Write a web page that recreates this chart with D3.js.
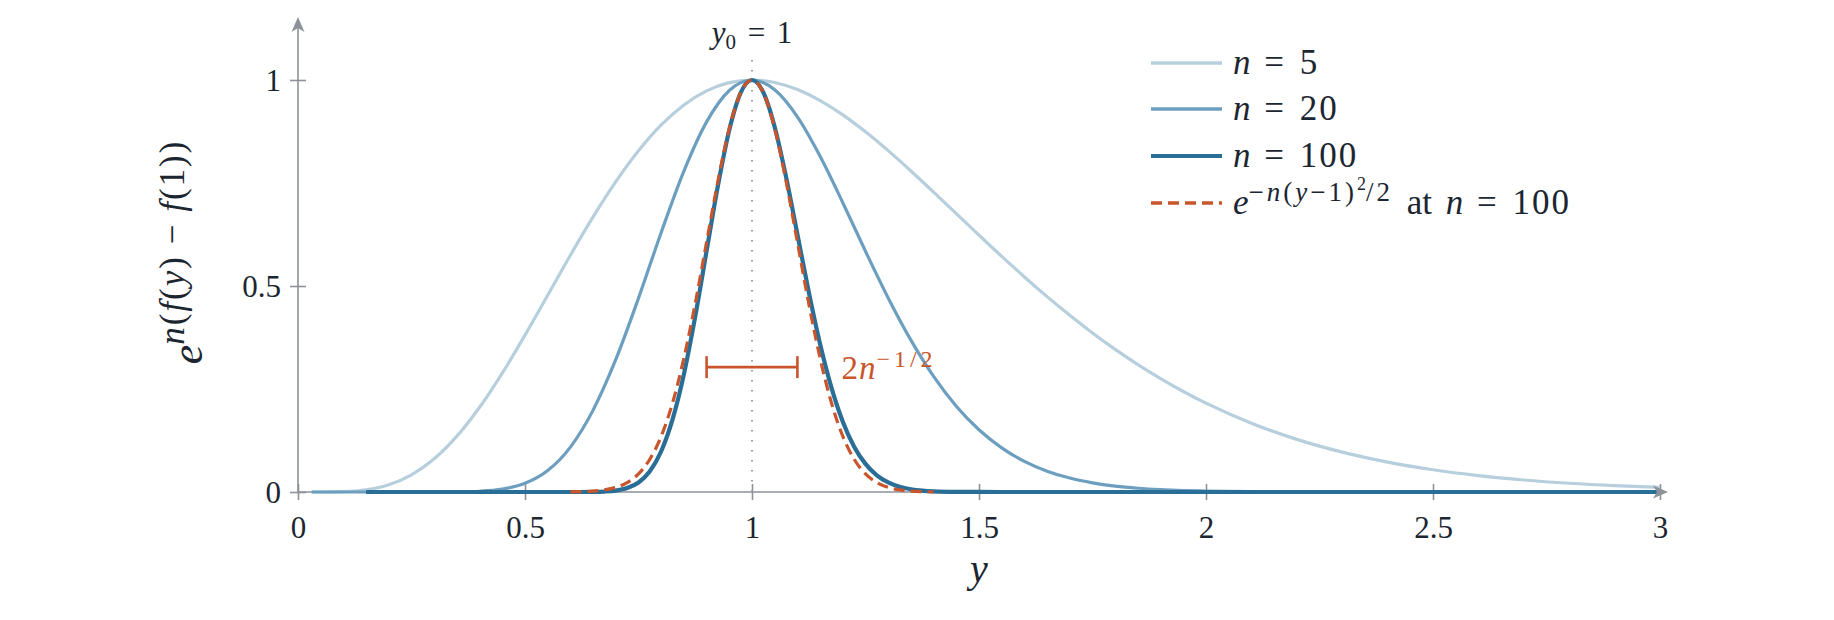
<!DOCTYPE html>
<html>
<head>
<meta charset="utf-8">
<script src="https://cdn.jsdelivr.net/npm/d3@7"></script>
<style>
  html, body { margin: 0; padding: 0; background: #fff; }
  svg { display: block; }
  text, tspan { font-family: "Liberation Serif", "Times New Roman", "DejaVu Serif", serif; fill: #1b2631; }
</style>
</head>
<body>
<svg id="chart" width="1834" height="620"></svg>
<script>
// ---------- data ----------
const yGridWide = [0.03, 0.05, 0.10, 0.15, 0.20, 0.25, 0.30, 0.35, 0.40, 0.45, 0.50, 0.55, 0.60, 0.65, 0.70, 0.75, 0.80, 0.85, 0.90, 0.95, 1.00,
  1.05, 1.10, 1.15, 1.20, 1.25, 1.30, 1.35, 1.40, 1.45, 1.50, 1.55, 1.60, 1.65, 1.70, 1.75, 1.80, 1.85, 1.90, 1.95, 2.00,
  2.10, 2.20, 2.30, 2.40, 2.50, 2.60, 2.70, 2.80, 2.90, 3.00];
const n5Values = [0.0000, 0.0000, 0.0009, 0.0053, 0.0175, 0.0415, 0.0805, 0.1355, 0.2057, 0.2887, 0.3808, 0.4776, 0.5747, 0.6676, 0.7532, 0.8282, 0.8909, 0.9394, 0.9736, 0.9936, 1.0000,
  0.9940, 0.9768, 0.9501, 0.9154, 0.8743, 0.8285, 0.7792, 0.7279, 0.6756, 0.6234, 0.5719, 0.5220, 0.4742, 0.4288, 0.3860, 0.3461, 0.3091, 0.2751, 0.2439, 0.2156,
  0.1669, 0.1277, 0.0968, 0.0726, 0.0540, 0.0399, 0.0292, 0.0212, 0.0153, 0.0110];
const n20Values = [0, 0, 0, 0, 0, 0, 0.0000, 0.0003, 0.0018, 0.0069, 0.0210, 0.0520, 0.1090, 0.1987, 0.3217, 0.4705, 0.6300, 0.7788, 0.8983, 0.9745, 1.0000,
  0.9761, 0.9105, 0.8148, 0.7022, 0.5844, 0.4711, 0.3686, 0.2807, 0.2083, 0.1510, 0.1070, 0.0743, 0.0506, 0.0338, 0.0222, 0.0143, 0.0091, 0.0057, 0.0035, 0.0022,
  0.0008, 0.0003, 0.0001, 0, 0, 0, 0, 0, 0, 0];
const yGridN100 = [0.15, 0.30, 0.45, 0.60, 0.65,
  0.675, 0.700, 0.725, 0.750, 0.775, 0.800, 0.825, 0.850, 0.875, 0.900, 0.925, 0.950, 0.975, 1.000,
  1.025, 1.050, 1.075, 1.100, 1.125, 1.150, 1.175, 1.200, 1.225, 1.250, 1.275, 1.300, 1.325, 1.350, 1.375, 1.400,
  1.45, 1.50, 1.60, 1.80, 2.00, 2.50, 3.00];
const n100Values = [0, 0, 0, 0, 0.0003,
  0.0011, 0.0034, 0.0095, 0.0230, 0.0503, 0.0989, 0.1761, 0.2859, 0.4261, 0.5851, 0.7438, 0.8787, 0.9687, 1.0000,
  0.9698, 0.8860, 0.7650, 0.6256, 0.4859, 0.3592, 0.2533, 0.1707, 0.1101, 0.0682, 0.0405, 0.0232, 0.0128, 0.0068, 0.0035, 0.0017,
  0.0004, 0.0001, 0, 0, 0, 0, 0];
const yGridGauss = [0.600, 0.625, 0.650, 0.675, 0.700, 0.725, 0.750, 0.775, 0.800, 0.825, 0.850, 0.875, 0.900, 0.925, 0.950, 0.975, 1.000,
  1.025, 1.050, 1.075, 1.100, 1.125, 1.150, 1.175, 1.200, 1.225, 1.250, 1.275, 1.300, 1.325, 1.350, 1.375, 1.400];
const gaussValues = [0.0003, 0.0009, 0.0022, 0.0051, 0.0111, 0.0228, 0.0439, 0.0796, 0.1353, 0.2163, 0.3247, 0.4578, 0.6065, 0.7548, 0.8825, 0.9692, 1.0000,
  0.9692, 0.8825, 0.7548, 0.6065, 0.4578, 0.3247, 0.2163, 0.1353, 0.0796, 0.0439, 0.0228, 0.0111, 0.0051, 0.0022, 0.0009, 0.0003];
const xTicks = [0, 0.5, 1, 1.5, 2, 2.5, 3];
const xTickLabels = ["0", "0.5", "1", "1.5", "2", "2.5", "3"];
const yTicks = [0, 0.5, 1];
const yTickLabels = ["0", "0.5", "1"];
const modeY = 1;
const errorBar = [0.9, 1.1];
const errorBarHeight = 0.303;
const seriesNames = ["n = 5", "n = 20", "n = 100"];

// ---------- layout ----------
const FONT = "'Liberation Serif', 'Times New Roman', 'DejaVu Serif', serif";
const svg = d3.select("#chart");
const x = d3.scaleLinear().domain([0, 3]).range([298, 1660]);
const y = d3.scaleLinear().domain([0, 1]).range([492, 80]);
const axisColor = "#8c919a";
const colN5 = "#b7cfdd", colN20 = "#6c9fbf", colN100 = "#296e96", colOrange = "#c8552b";

// math text helper
function addMath(sel, parts) {
  let rise = 0;
  parts.forEach(p => {
    const r = p.r || 0;
    sel.append("tspan")
      .attr("dy", -(r - rise))
      .style("font-size", p.s + "px")
      .style("font-style", p.i ? "italic" : "normal")
      .style("font-family", FONT)
      .style("letter-spacing", (p.ls || 0) + "px")
      .style("word-spacing", (p.ws || 0) + "px")
      .text(p.t);
    rise = r;
  });
}

// ---------- axes ----------
const gx = svg.append("g").attr("transform", `translate(0,${y(0)})`)
  .call(d3.axisBottom(x).tickValues(xTicks).tickFormat((d, i) => xTickLabels[i]).tickSize(8));
gx.select(".domain").remove();
gx.selectAll(".tick line").attr("y1", -8).attr("y2", 8).attr("stroke", axisColor).attr("stroke-width", 1.6);
gx.selectAll(".tick text").attr("y", 46).attr("dy", 0).style("font-size", "31px")
  .style("font-family", FONT).attr("fill", "#1b2631");

const gy = svg.append("g").attr("transform", `translate(${x(0)},0)`)
  .call(d3.axisLeft(y).tickValues(yTicks).tickFormat((d, i) => yTickLabels[i]).tickSize(8));
gy.select(".domain").remove();
gy.selectAll(".tick line").attr("x1", -8).attr("x2", 8).attr("stroke", axisColor).attr("stroke-width", 1.6);
gy.selectAll(".tick text").attr("x", -17).attr("dy", "0.34em").style("font-size", "31px")
  .style("font-family", FONT).attr("fill", "#1b2631");

// axis lines
svg.append("line").attr("x1", x(0)).attr("x2", 1660).attr("y1", y(0)).attr("y2", y(0))
  .attr("stroke", axisColor).attr("stroke-width", 1.6);
svg.append("line").attr("x1", x(0)).attr("x2", x(0)).attr("y1", y(0)).attr("y2", 24)
  .attr("stroke", axisColor).attr("stroke-width", 1.6);

// dotted line at y0 = 1
svg.append("line").attr("x1", x(modeY)).attr("x2", x(modeY)).attr("y1", 60).attr("y2", y(0))
  .attr("stroke", "#9a9ea6").attr("stroke-width", 2).attr("stroke-dasharray", "1.6,8.4");

// ---------- curves ----------
const line = d3.line().x(d => x(d[0])).y(d => y(d[1])).curve(d3.curveMonotoneX);
const zip = (a, b) => a.map((v, i) => [v, b[i]]);

svg.append("path").attr("d", line(zip(yGridWide, n5Values)))
  .attr("fill", "none").attr("stroke", colN5).attr("stroke-width", 3.2);
svg.append("path").attr("d", line(zip(yGridWide, n20Values)))
  .attr("fill", "none").attr("stroke", colN20).attr("stroke-width", 3.2);
svg.append("path").attr("d", line(zip(yGridN100, n100Values)))
  .attr("fill", "none").attr("stroke", colN100).attr("stroke-width", 4.2);
svg.append("path").attr("d", line(zip(yGridGauss, gaussValues)))
  .attr("fill", "none").attr("stroke", colOrange).attr("stroke-width", 3.2)
  .attr("stroke-dasharray", "11,6");

// arrowheads
function arrowHead(tx, ty, angle) {
  svg.append("path")
    .attr("d", "M0,0 L-15,-6.5 L-11,0 L-15,6.5 Z")
    .attr("transform", `translate(${tx},${ty}) rotate(${angle})`)
    .attr("fill", axisColor);
}
arrowHead(1668, y(0), 0);
arrowHead(x(0), 17, -90);

// ---------- error bar ----------
const eb = svg.append("g").attr("stroke", colOrange).attr("stroke-width", 2.6);
eb.append("line").attr("x1", x(errorBar[0])).attr("x2", x(errorBar[1]))
  .attr("y1", y(errorBarHeight)).attr("y2", y(errorBarHeight));
errorBar.forEach(v => eb.append("line").attr("x1", x(v)).attr("x2", x(v))
  .attr("y1", y(errorBarHeight) - 11).attr("y2", y(errorBarHeight) + 11));
const ebl = svg.append("text").attr("x", x(errorBar[1]) + 44).attr("y", y(errorBarHeight) + 12)
  .style("fill", colOrange);
addMath(ebl, [{t: "2", s: 33, ls: 1}, {t: "n", s: 33, i: true, ls: 1}, {t: "−1/2", s: 24, r: 12, ls: 4}]);
ebl.selectAll("tspan").style("fill", colOrange);

// ---------- titles ----------
const tt = svg.append("text").attr("x", x(modeY)).attr("y", 43).attr("text-anchor", "middle");
addMath(tt, [{t: "y", s: 31, i: true}, {t: "0", s: 21, r: -6}, {t: " = 1", s: 31, r: 0, ws: 4}]);

svg.append("text").attr("x", x(1.5)).attr("y", 582).attr("text-anchor", "middle")
  .style("font-size", "40px").style("font-style", "italic").style("font-family", FONT).text("y");

const yl = svg.append("text").attr("text-anchor", "middle")
  .attr("transform", "translate(202,252) rotate(-90)");
addMath(yl, [{t: "e", s: 44, i: true}, {t: "n", s: 35, r: 18, i: true, ls: 2}, {t: "(", s: 35, r: 18, ls: 2},
  {t: "f", s: 35, r: 18, i: true, ls: 2}, {t: "(", s: 35, r: 18, ls: 2}, {t: "y", s: 35, r: 18, i: true, ls: 2},
  {t: ") − ", s: 35, r: 18, ls: 2}, {t: "f", s: 35, r: 18, i: true, ls: 2}, {t: "(1))", s: 35, r: 18, ls: 2}]);

// ---------- legend ----------
const legendColors = [colN5, colN20, colN100];
const legendWidths = [3.6, 3.6, 4.2];
const legendRowY = [63, 109, 156, 203];
seriesNames.forEach((name, i) => {
  svg.append("line").attr("x1", 1151).attr("x2", 1222).attr("y1", legendRowY[i]).attr("y2", legendRowY[i])
    .attr("stroke", legendColors[i]).attr("stroke-width", legendWidths[i]);
  const t = svg.append("text").attr("x", 1233).attr("y", legendRowY[i] + 11);
  const parts = name.split(" ");
  addMath(t, [{t: parts[0], s: 35, i: true}, {t: " " + parts.slice(1).join(" "), s: 35, ws: 3, ls: 2}]);
});
svg.append("line").attr("x1", 1151).attr("x2", 1222).attr("y1", legendRowY[3]).attr("y2", legendRowY[3])
  .attr("stroke", colOrange).attr("stroke-width", 3.6).attr("stroke-dasharray", "11,6");
const lt = svg.append("text").attr("x", 1233).attr("y", legendRowY[3] + 11);
addMath(lt, [{t: "e", s: 35, i: true}, {t: "−", s: 27, r: 13, ls: 3}, {t: "n", s: 27, r: 13, i: true, ls: 3},
  {t: "(", s: 27, r: 13, ls: 3}, {t: "y", s: 27, r: 13, i: true, ls: 3}, {t: "−1)", s: 27, r: 13, ls: 3},
  {t: "2", s: 18, r: 24}, {t: "/2", s: 27, r: 13, ls: 3}, {t: " at ", s: 35, r: 0, ws: 5},
  {t: "n", s: 35, r: 0, i: true}, {t: " = 100", s: 35, r: 0, ws: 3, ls: 2}]);
</script>
</body>
</html>
